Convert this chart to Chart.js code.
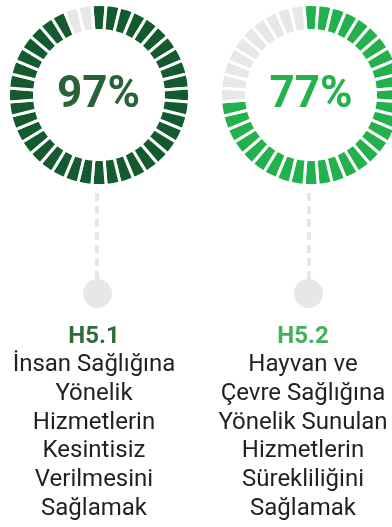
<!DOCTYPE html>
<html lang="tr">
<head>
<meta charset="utf-8">
<script src="https://cdn.jsdelivr.net/npm/chart.js@4.4.1/dist/chart.umd.min.js"></script>
<style>
  html, body {
    margin: 0;
    padding: 0;
    background: #fff;
  }
  body {
    position: relative;
    width: 392px;
    height: 527px;
    overflow: hidden;
    font-family: Roboto, "Noto Sans", sans-serif;
  }
  .halka {
    position: absolute;
    width: 200px;
    height: 200px;
  }
  .yuzde {
    position: absolute;
    width: 200px;
    text-align: center;
    font-size: 44px;
    font-weight: 700;
    line-height: 44px;
  }
  .cizgi {
    position: absolute;
    width: 4px;
    background: repeating-linear-gradient(to bottom, #e6e7e8 0 8.5px, transparent 8.5px 13px);
  }
  .nokta {
    position: absolute;
    width: 29px;
    height: 29px;
    border-radius: 50%;
    background: #e6e7e8;
  }
  .metin {
    position: absolute;
    width: 240px;
    text-align: center;
    font-size: 24px;
    line-height: 28.7px;
    color: #231f20;
  }
  .metin b {
    display: block;
    font-weight: 700;
  }
</style>
</head>
<body>
<script>
// hedefler
const kodlar = ["H5.1", "H5.2"];
const yuzdeler = [97, 77];
const basliklar = [
  ["İnsan Sağlığına", "Yönelik", "Hizmetlerin", "Kesintisiz", "Verilmesini", "Sağlamak"],
  ["Hayvan ve", "Çevre Sağlığına", "Yönelik Sunulan", "Hizmetlerin", "Sürekliliğini", "Sağlamak"],
];
const halkaRenk = ["#135a2e", "#22b14c"];
const yaziRenk = ["#2a6238", "#23b24c"];
const kodRenk = ["#2f6b3d", "#41b25b"];
const bosRenk = "#e6e7e8";
const dilimSayisi = 40;

// yerlesim (merkezler)
const halkaX = [98.5, 311];
const halkaY = 94.5;
const cizgiX = [97.2, 308.8];
const metinX = [94, 303];

function halkaCiz(i) {
  const kutu = document.createElement("div");
  kutu.className = "halka";
  kutu.style.left = halkaX[i] - 100 + "px";
  kutu.style.top = halkaY - 100 + "px";
  const canvas = document.createElement("canvas");
  canvas.width = 200;
  canvas.height = 200;
  kutu.appendChild(canvas);
  document.body.appendChild(kutu);

  const dolu = Math.floor((yuzdeler[i] / 100) * dilimSayisi);
  const veri = Array.from({ length: dilimSayisi }, () => 1);
  const renkler = veri.map((v, k) => (k < dolu ? halkaRenk[i] : bosRenk));

  new Chart(canvas.getContext("2d"), {
    type: "doughnut",
    data: {
      labels: veri.map((v, k) => k + 1),
      datasets: [
        {
          data: veri,
          backgroundColor: renkler,
          borderColor: "#fff",
          borderWidth: 3,
        },
      ],
    },
    options: {
      responsive: false,
      animation: false,
      events: [],
      radius: 90.5,
      cutout: (64.5 / 90.5) * 100 + "%",
      rotation: -180 / dilimSayisi,
      layout: { padding: 0 },
      plugins: {
        legend: { display: false },
        tooltip: { enabled: false },
      },
    },
  });

  const yuzde = document.createElement("div");
  yuzde.className = "yuzde";
  yuzde.style.left = halkaX[i] - 100 + "px";
  yuzde.style.top = "69.7px";
  yuzde.style.color = yaziRenk[i];
  yuzde.textContent = yuzdeler[i] + "%";
  document.body.appendChild(yuzde);

  // kesikli cizgi ve alt nokta
  const cizgi = document.createElement("div");
  cizgi.className = "cizgi";
  cizgi.style.left = cizgiX[i] - 2 + "px";
  cizgi.style.top = "193px";
  cizgi.style.height = "92px";
  document.body.appendChild(cizgi);

  const nokta = document.createElement("div");
  nokta.className = "nokta";
  nokta.style.left = cizgiX[i] - 14.5 + "px";
  nokta.style.top = "279px";
  document.body.appendChild(nokta);

  const metin = document.createElement("div");
  metin.className = "metin";
  metin.style.left = metinX[i] - 120 + "px";
  metin.style.top = "320.5px";
  const kod = document.createElement("b");
  kod.style.color = kodRenk[i];
  kod.textContent = kodlar[i];
  metin.appendChild(kod);
  basliklar[i].forEach((satir) => {
    const s = document.createElement("div");
    s.textContent = satir;
    metin.appendChild(s);
  });
  document.body.appendChild(metin);
}

kodlar.forEach((k, i) => halkaCiz(i));
</script>
</body>
</html>
